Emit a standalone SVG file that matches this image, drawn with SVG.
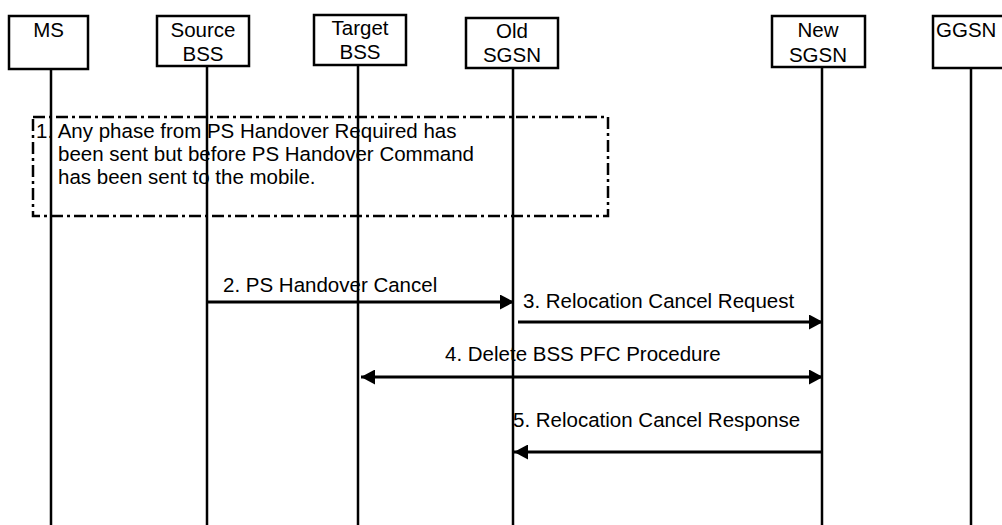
<svg xmlns="http://www.w3.org/2000/svg" width="1002" height="525" viewBox="0 0 1002 525">
<style>
.box{fill:#fff;stroke:#000;stroke-width:2.5}
.life{stroke:#000;stroke-width:2.5;fill:none}
.msg{stroke:#000;stroke-width:3;fill:none}
text{font-family:"Liberation Sans",Arial,sans-serif;font-size:20.5px;fill:#000}
.c{text-anchor:middle}
</style>
<defs>
<marker id="ah" markerWidth="14" markerHeight="15" refX="14" refY="7.5" orient="auto" markerUnits="userSpaceOnUse">
<path d="M0,0 L14,7.5 L0,15 Z" fill="#000"/>
</marker>
<marker id="ahs" markerWidth="14" markerHeight="15" refX="0" refY="7.5" orient="auto" markerUnits="userSpaceOnUse">
<path d="M14,0 L0,7.5 L14,15 Z" fill="#000"/>
</marker>
</defs>
<rect width="1002" height="525" fill="#fff"/>
<g id="lifelines">
<line class="life" x1="51" y1="69" x2="51" y2="525"/>
<line class="life" x1="207" y1="66" x2="207" y2="525"/>
<line class="life" x1="358" y1="65" x2="358" y2="525"/>
<line class="life" x1="513" y1="68" x2="513" y2="525"/>
<line class="life" x1="822" y1="67" x2="822" y2="525"/>
<line class="life" x1="971" y1="68" x2="971" y2="525"/>
</g>
<g id="MS"><rect class="box" x="9" y="16" width="79" height="53"/><text class="c" x="48.5" y="37">MS</text></g>
<g id="SourceBSS"><rect class="box" x="157" y="16" width="92" height="50"/><text class="c" x="203" y="37">Source</text><text class="c" x="203" y="61">BSS</text></g>
<g id="TargetBSS"><rect class="box" x="314" y="15" width="92" height="50"/><text class="c" x="360" y="35">Target</text><text class="c" x="360" y="59">BSS</text></g>
<g id="OldSGSN"><rect class="box" x="466" y="18" width="92" height="50"/><text class="c" x="512" y="38">Old</text><text class="c" x="512" y="62">SGSN</text></g>
<g id="NewSGSN"><rect class="box" x="772" y="16" width="93" height="51"/><text class="c" x="818" y="37">New</text><text class="c" x="818" y="62">SGSN</text></g>
<g id="GGSN"><rect class="box" x="933" y="16" width="80" height="52"/><text x="936" y="37">GGSN</text></g>
<g id="note">
<rect x="33" y="117" width="575" height="99" fill="none" stroke="#000" stroke-width="2.5" stroke-dasharray="12,4,3,4"/>
<text x="36" y="138">1. Any phase from PS Handover Required has</text>
<text x="58" y="161">been sent but before PS Handover Command</text>
<text x="58" y="184">has been sent to the mobile.</text>
</g>
<g id="connectors">
<line class="msg" x1="207" y1="302" x2="514" y2="302" marker-end="url(#ah)"/>
<line class="msg" x1="518" y1="322" x2="823" y2="322" marker-end="url(#ah)"/>
<line class="msg" x1="361" y1="377" x2="823" y2="377" marker-start="url(#ahs)" marker-end="url(#ah)"/>
<line class="msg" x1="822" y1="452" x2="514" y2="452" marker-end="url(#ah)"/>
</g>
<g id="labels">
<text x="223" y="292">2. PS Handover Cancel</text>
<text x="523" y="308">3. Relocation Cancel Request</text>
<text x="445" y="361">4. Delete BSS PFC Procedure</text>
<text x="513" y="427">5. Relocation Cancel Response</text>
</g>
</svg>
